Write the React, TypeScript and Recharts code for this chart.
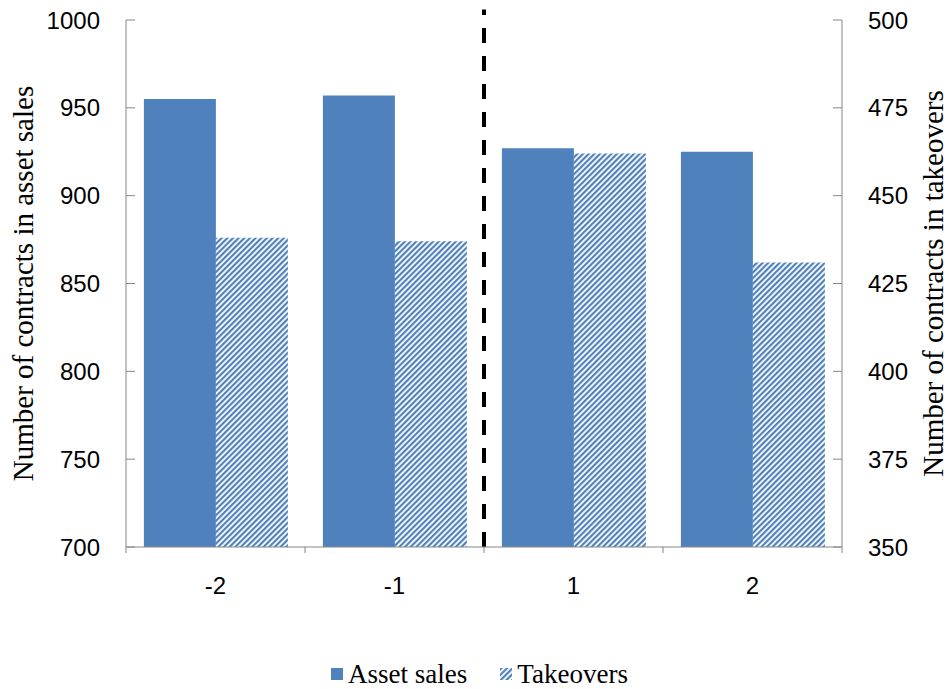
import React from 'react';
import { BarChart, Bar, XAxis, YAxis, Legend, ReferenceLine } from 'recharts';

const periods = ['-2', '-1', '1', '2'];
const assetSales = [955, 957, 927, 925];
const takeovers = [438, 437, 462, 431];
const leftTicks = [700, 750, 800, 850, 900, 950, 1000];
const rightTicks = [350, 375, 400, 425, 450, 475, 500];

const data = periods.map((p, i) => ({ period: p, asset: assetSales[i], takeovers: takeovers[i] }));

const W = 949;
const H = 689;
const LEFT_W = 126;
const RIGHT_W = 107;
const HALF_BAND = (W - LEFT_W - RIGHT_W) / periods.length / 2;
const CAT_MARGIN = 30;

const BLUE = '#4F81BD';
const AXIS = '#868686';
const tickFont = { fontFamily: '"Liberation Sans", Arial, sans-serif', fontSize: 24, fill: '#000' };
const serif = '"Liberation Serif", "Times New Roman", serif';

// category labels sit in the middle, tick marks go on the band edges
const CategoryTick = (props: any) => {
    const { x, y, payload, index } = props;
    const axisY = y - CAT_MARGIN;
    return (
        <g>
            <line x1={x - HALF_BAND} x2={x - HALF_BAND} y1={axisY} y2={axisY + 6} stroke={AXIS} />
            {index === periods.length - 1 && (
                <line x1={x + HALF_BAND} x2={x + HALF_BAND} y1={axisY} y2={axisY + 6} stroke={AXIS} />
            )}
            <text x={x} y={y} dy="0.71em" textAnchor="middle" {...tickFont}>
                {payload.value}
            </text>
        </g>
    );
};

// dashed divider between -1 and 1
const DividerLine = (props: any) => {
    const { x1, y1, x2, y2 } = props;
    return (
        <line
            x1={x1 + HALF_BAND}
            x2={x2 + HALF_BAND}
            y1={y1}
            y2={y2}
            stroke="#000"
            strokeWidth={4}
            strokeDasharray="15 13"
        />
    );
};

const HatchLegend = () => (
    <div style={{ display: 'flex', justifyContent: 'center', alignItems: 'center', height: 30, paddingLeft: 10, fontFamily: serif, fontSize: 27, color: '#000' }}>
        <span style={{ display: 'inline-block', width: 12, height: 12, background: BLUE, marginRight: 5 }} />
        <span style={{ marginRight: 33 }}>Asset sales</span>
        <svg width={12} height={12} style={{ marginRight: 5 }}>
            <defs>
                <pattern id="hatchLegend" patternUnits="userSpaceOnUse" width={4} height={4} patternTransform="rotate(45)">
                    <rect width={4} height={4} fill="#fff" />
                    <rect width={2.2} height={4} fill={BLUE} />
                </pattern>
            </defs>
            <rect width={12} height={12} fill="url(#hatchLegend)" />
        </svg>
        <span>Takeovers</span>
    </div>
);

export default function App() {
    return (
        <div style={{ position: 'absolute', left: 0, top: 0, width: W, height: H, background: '#fff' }}>
            <BarChart
                width={W}
                height={H}
                data={data}
                margin={{ top: 20, right: 0, bottom: 0, left: 0 }}
                barCategoryGap="10%"
                barGap={0}
            >
                <defs>
                    <pattern id="hatch" patternUnits="userSpaceOnUse" width={4} height={4} patternTransform="rotate(45)">
                        <rect width={4} height={4} fill="#fff" />
                        <rect width={2.2} height={4} fill={BLUE} />
                    </pattern>
                </defs>
                <XAxis
                    dataKey="period"
                    tickLine={false}
                    axisLine={{ stroke: AXIS }}
                    tick={<CategoryTick />}
                    tickSize={0}
                    tickMargin={CAT_MARGIN}
                    height={112}
                />
                <YAxis
                    yAxisId="left"
                    domain={[700, 1000]}
                    ticks={leftTicks}
                    width={LEFT_W}
                    axisLine={{ stroke: AXIS }}
                    tickLine={{ stroke: AXIS }}
                    tickSize={-9}
                    tickMargin={35}
                    tick={tickFont}
                    label={{
                        value: 'Number of contracts in asset sales',
                        angle: -90,
                        position: 'insideLeft',
                        offset: 23,
                        style: { textAnchor: 'middle', fontFamily: serif, fontSize: 29, fill: '#000' },
                    }}
                />
                <YAxis
                    yAxisId="right"
                    orientation="right"
                    domain={[350, 500]}
                    ticks={rightTicks}
                    width={RIGHT_W}
                    axisLine={{ stroke: AXIS }}
                    tickLine={{ stroke: AXIS }}
                    tickSize={-9}
                    tickMargin={35}
                    tick={{ ...tickFont, textAnchor: 'start' }}
                    label={{
                        value: 'Number of contracts in takeovers',
                        angle: -90,
                        position: 'insideRight',
                        offset: 16,
                        style: { textAnchor: 'middle', fontFamily: serif, fontSize: 29, fill: '#000' },
                    }}
                />
                <Bar yAxisId="left" dataKey="asset" name="Asset sales" fill={BLUE} isAnimationActive={false} />
                <Bar yAxisId="right" dataKey="takeovers" name="Takeovers" fill="url(#hatch)" isAnimationActive={false} />
                <ReferenceLine
                    yAxisId="right"
                    segment={[{ x: '-1', y: 350 }, { x: '-1', y: 503 }]}
                    ifOverflow="visible"
                    shape={<DividerLine />}
                />
                <Legend verticalAlign="bottom" height={30} content={() => <HatchLegend />} />
            </BarChart>
        </div>
    );
}
